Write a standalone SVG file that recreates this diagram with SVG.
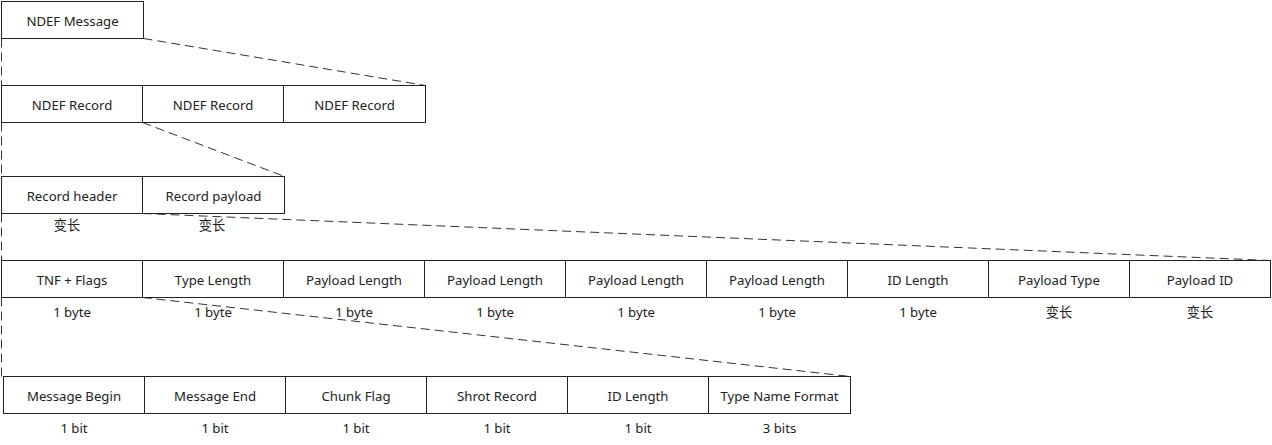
<svg xmlns="http://www.w3.org/2000/svg" width="1272" height="445" viewBox="0 0 1272 445">
<style>
.b{fill:#fff;stroke:#222;stroke-width:1}
.t{font-family:"Noto Sans","Noto Sans CJK SC",sans-serif;font-size:13.2px;fill:#222;text-anchor:middle;dominant-baseline:central}
.d{stroke:#333;stroke-width:1;stroke-dasharray:9 5;fill:none}
</style>
<rect width="1272" height="445" fill="#fff"/>
<g id="connectors">
<line class="d" x1="143.5" y1="38.5" x2="425.5" y2="85.5"/>
<line class="d" x1="1.5" y1="38.5" x2="1.5" y2="85.5"/>
<line class="d" x1="142.5" y1="122.5" x2="284.5" y2="176.5"/>
<line class="d" x1="1.5" y1="122.5" x2="1.5" y2="176.5"/>
<line class="d" x1="142.5" y1="213.5" x2="1270.5" y2="260.5"/>
<line class="d" x1="1.5" y1="213.5" x2="1.5" y2="260.5"/>
<line class="d" x1="142.5" y1="297.5" x2="850.5" y2="376.5"/>
<line class="d" x1="1.5" y1="297.5" x2="1.5" y2="376.5"/>
</g>
<g id="ndef-message"><rect class="b" x="1.5" y="1.5" width="142" height="37"/><text class="t" x="72.5" y="21">NDEF Message</text></g>
<g id="ndef-record-1"><rect class="b" x="1.5" y="85.5" width="141" height="37"/><text class="t" x="72" y="105">NDEF Record</text></g>
<g id="ndef-record-2"><rect class="b" x="142.5" y="85.5" width="141" height="37"/><text class="t" x="213" y="105">NDEF Record</text></g>
<g id="ndef-record-3"><rect class="b" x="283.5" y="85.5" width="142" height="37"/><text class="t" x="354.5" y="105">NDEF Record</text></g>
<g id="record-header"><rect class="b" x="1.5" y="176.5" width="141" height="37"/><text class="t" x="72" y="196">Record header</text><text class="t" x="67" y="225">变长</text></g>
<g id="record-payload"><rect class="b" x="142.5" y="176.5" width="142" height="37"/><text class="t" x="213.5" y="196">Record payload</text><text class="t" x="212" y="225">变长</text></g>
<g id="f-tnf"><rect class="b" x="1.5" y="260.5" width="141" height="37"/><text class="t" x="72" y="280">TNF + Flags</text><text class="t" x="72" y="312">1 byte</text></g>
<g id="f-type-length"><rect class="b" x="142.5" y="260.5" width="141" height="37"/><text class="t" x="213" y="280">Type Length</text><text class="t" x="213" y="312">1 byte</text></g>
<g id="f-payload-length-1"><rect class="b" x="283.5" y="260.5" width="141" height="37"/><text class="t" x="354" y="280">Payload Length</text><text class="t" x="354" y="312">1 byte</text></g>
<g id="f-payload-length-2"><rect class="b" x="424.5" y="260.5" width="141" height="37"/><text class="t" x="495" y="280">Payload Length</text><text class="t" x="495" y="312">1 byte</text></g>
<g id="f-payload-length-3"><rect class="b" x="565.5" y="260.5" width="141" height="37"/><text class="t" x="636" y="280">Payload Length</text><text class="t" x="636" y="312">1 byte</text></g>
<g id="f-payload-length-4"><rect class="b" x="706.5" y="260.5" width="141" height="37"/><text class="t" x="777" y="280">Payload Length</text><text class="t" x="777" y="312">1 byte</text></g>
<g id="f-id-length"><rect class="b" x="847.5" y="260.5" width="141" height="37"/><text class="t" x="918" y="280">ID Length</text><text class="t" x="918" y="312">1 byte</text></g>
<g id="f-payload-type"><rect class="b" x="988.5" y="260.5" width="141" height="37"/><text class="t" x="1059" y="280">Payload Type</text><text class="t" x="1059" y="312">变长</text></g>
<g id="f-payload-id"><rect class="b" x="1129.5" y="260.5" width="141" height="37"/><text class="t" x="1200" y="280">Payload ID</text><text class="t" x="1200" y="312">变长</text></g>
<g id="b-mb"><rect class="b" x="3.5" y="376.5" width="141" height="37"/><text class="t" x="74" y="396">Message Begin</text><text class="t" x="74" y="428">1 bit</text></g>
<g id="b-me"><rect class="b" x="144.5" y="376.5" width="141" height="37"/><text class="t" x="215" y="396">Message End</text><text class="t" x="215" y="428">1 bit</text></g>
<g id="b-cf"><rect class="b" x="285.5" y="376.5" width="141" height="37"/><text class="t" x="356" y="396">Chunk Flag</text><text class="t" x="356" y="428">1 bit</text></g>
<g id="b-sr"><rect class="b" x="426.5" y="376.5" width="141" height="37"/><text class="t" x="497" y="396">Shrot Record</text><text class="t" x="497" y="428">1 bit</text></g>
<g id="b-il"><rect class="b" x="567.5" y="376.5" width="141" height="37"/><text class="t" x="638" y="396">ID Length</text><text class="t" x="638" y="428">1 bit</text></g>
<g id="b-tnf"><rect class="b" x="708.5" y="376.5" width="142" height="37"/><text class="t" x="779.5" y="396">Type Name Format</text><text class="t" x="779.5" y="428">3 bits</text></g>
</svg>
